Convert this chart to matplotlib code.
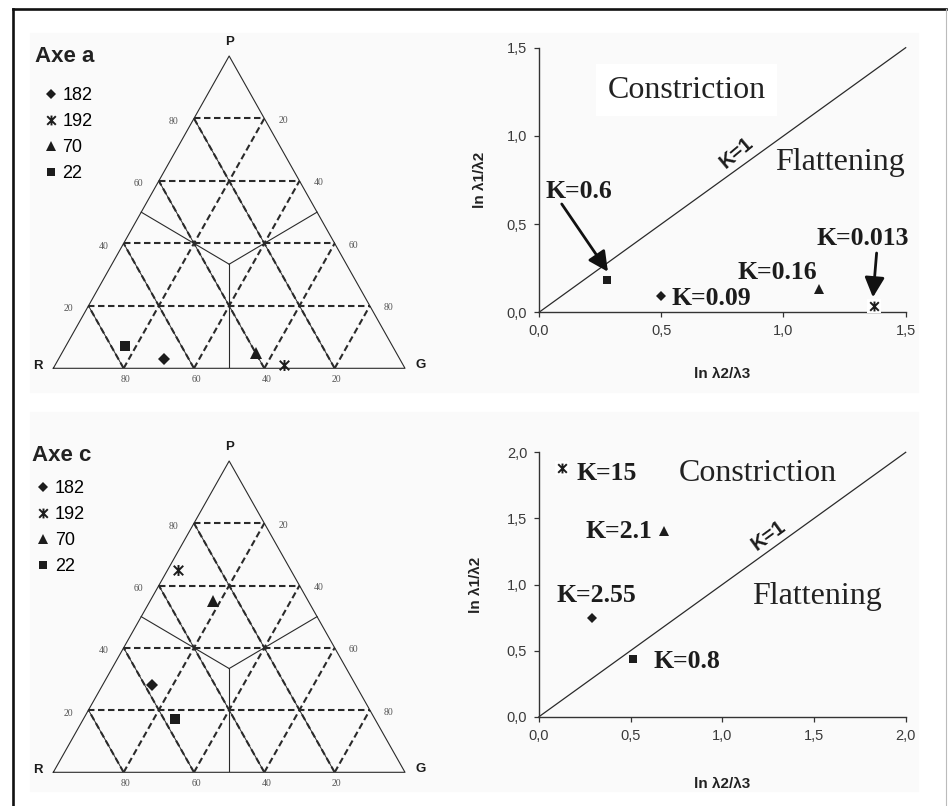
"""Ternary + Flinn diagrams for Axe a / Axe c (strain ellipsoid shape)."""

import matplotlib
matplotlib.use("Agg")
import matplotlib.pyplot as plt
import numpy as np
from matplotlib.lines import Line2D
from matplotlib.patches import Rectangle
from matplotlib.path import Path
from matplotlib.ticker import FuncFormatter

SANS = "Liberation Sans"
SERIF = "Liberation Serif"
INK = "#1c1c1c"
LINE = "#2a2a2a"
TICK = "#555555"
PANEL = "#fafafa"

# samples, same order everywhere
samples = ["182", "192", "70", "22"]

# ternary compositions, percent (P on the left edge, G on the right edge, R = rest)
axe_a_P = [3, 1, 5, 7]
axe_a_G = [30, 65, 55, 17]
axe_c_P = [28, 65, 55, 17]
axe_c_G = [14, 3, 18, 26]

# Flinn diagram: ln(l2/l3) vs ln(l1/l2)
axe_a_x = [0.50, 1.37, 1.145, 0.28]
axe_a_y = [0.095, 0.035, 0.13, 0.185]
axe_c_x = [0.29, 0.125, 0.68, 0.515]
axe_c_y = [0.745, 1.885, 1.405, 0.435]
axe_a_k = ["K=0.09", "K=0.013", "K=0.16", "K=0.6"]
axe_c_k = ["K=2.55", "K=15", "K=2.1", "K=0.8"]

grid_levels = [20, 40, 60, 80]

STAR = Path([(-1, -1), (1, 1), (-1, 1), (1, -1), (0, -1.15), (0, 1.15)],
            [Path.MOVETO, Path.LINETO, Path.MOVETO, Path.LINETO, Path.MOVETO, Path.LINETO])


def marker_style(name, scale=1.0):
    base = {
        "182": dict(marker="D", ms=5.8),
        "192": dict(marker=STAR, ms=7.5, mfc="none", mew=1.4),
        "70": dict(marker="^", ms=8.0),
        "22": dict(marker="s", ms=6.6),
    }[name]
    st = dict(base)
    st["ms"] = base["ms"] * scale
    st.setdefault("mew", 0)
    st.setdefault("mfc", INK)
    st["mec"] = INK
    return st


FIG_W, FIG_H = 948, 806


def fx(px):
    return px / FIG_W


def fy(py):
    return 1 - py / FIG_H


fig = plt.figure(figsize=(9.48, 8.06), dpi=100, facecolor="white")

# pasted-panel backgrounds + frame
for (x0, y0, x1, y1) in [(30, 33, 918, 392), (30, 412, 918, 791)]:
    fig.patches.append(Rectangle((fx(x0), fy(y1)), fx(x1) - fx(x0), fy(y0) - fy(y1),
                                 transform=fig.transFigure, color=PANEL, zorder=-10))
fig.lines.append(Line2D([fx(13), fx(13)], [0, fy(9)], transform=fig.transFigure,
                        color="#111111", lw=1.9))
fig.lines.append(Line2D([fx(13), fx(946)], [fy(9), fy(9)], transform=fig.transFigure,
                        color="#111111", lw=1.9))
fig.lines.append(Line2D([fx(946), fx(946)], [0, fy(9)], transform=fig.transFigure,
                        color="#bbbbbb", lw=0.8))

H = np.sqrt(3) / 2
DASH = (0, (3.1, 1.7))


def ternary(ax, P, G, title, title_xy, legend_xy):
    ax.set_xlim(0, 1)
    ax.set_ylim(0, H)
    ax.axis("off")
    ax.plot([0, 1, 0.5, 0], [0, 0, H, 0], color=LINE, lw=0.8, clip_on=False)

    for lv in grid_levels:
        v = lv / 100
        # constant P (horizontal)
        ax.plot([v / 2, 1 - v / 2], [v * H, v * H], color=LINE, lw=1.5, ls=DASH)
        # constant R (parallel to P-G edge): thin solid under the dashes
        xr = [1 - v, (1 - v) / 2]
        yr = [0, (1 - v) * H]
        ax.plot(xr, yr, color=LINE, lw=0.7)
        ax.plot(xr, yr, color=LINE, lw=1.5, ls=DASH)
        # constant G (parallel to R-P edge)
        ax.plot([v, v + (1 - v) / 2], [0, (1 - v) * H], color=LINE, lw=1.5, ls=DASH)

        kw = dict(fontsize=7, family=SERIF, color=TICK, textcoords="offset pixels",
                  ha="center", va="center")
        ax.annotate(f"{lv}", (v / 2, v * H), xytext=(-20, -3), **kw)
        ax.annotate(f"{100 - lv}", (1 - v / 2, v * H), xytext=(19, -2), **kw)
        ax.annotate(f"{100 - lv}", (v, 0), xytext=(2, -11), **kw)

    # field boundaries: centroid to edge midpoints
    cx, cy = 0.5, H / 3
    for mx, my in [(0.5, 0), (0.25, H / 2), (0.75, H / 2)]:
        ax.plot([cx, mx], [cy, my], color=LINE, lw=0.8)

    vkw = dict(fontsize=9.5, family=SANS, fontweight="bold", color=INK,
               textcoords="offset pixels", ha="center", va="center")
    ax.annotate("P", (0.5, H), xytext=(0, 14), **vkw)
    ax.annotate("R", (0, 0), xytext=(-15, 2), **vkw)
    ax.annotate("G", (1, 0), xytext=(16, 3), **vkw)

    P = np.array(P) / 100
    G = np.array(G) / 100
    xs = G + P / 2
    ys = P * H
    handles = []
    for i, s in enumerate(samples):
        ax.plot(xs[i], ys[i], ls="none", zorder=4, clip_on=False, **marker_style(s, 1.05))
        handles.append(Line2D([], [], ls="none", **marker_style(s, 0.95)))

    fig.text(fx(title_xy[0]), fy(title_xy[1]), title, fontsize=16, family=SANS,
             fontweight="bold", color="#222222", ha="left", va="center")
    fig.legend(handles, samples, loc="upper left",
               bbox_to_anchor=(fx(legend_xy[0]), fy(legend_xy[1])),
               frameon=False, borderpad=0, borderaxespad=0, handlelength=0.8,
               handletextpad=0.25, labelspacing=0.5,
               prop=dict(family=SANS, size=13))


def flinn(ax, xs, ys, ks, lim, label_offsets):
    ax.set_facecolor("none")
    ax.set_xlim(0, lim)
    ax.set_ylim(0, lim)
    ticks = np.arange(0, lim + 0.01, 0.5)
    ax.set_xticks(ticks)
    ax.set_yticks(ticks)
    fmt = FuncFormatter(lambda v, _: f"{v:.1f}".replace(".", ","))
    ax.xaxis.set_major_formatter(fmt)
    ax.yaxis.set_major_formatter(fmt)
    ax.tick_params(direction="out", length=3.5, width=0.9, color="#333333",
                   labelsize=10.5, labelcolor="#3a3a3a", pad=5)
    for lab in ax.get_xticklabels() + ax.get_yticklabels():
        lab.set_family(SANS)
    for sp in ("top", "right"):
        ax.spines[sp].set_visible(False)
    for sp in ("left", "bottom"):
        ax.spines[sp].set_color("#333333")
        ax.spines[sp].set_linewidth(1.0)

    ax.plot([0, lim], [0, lim], color=LINE, lw=0.9, clip_on=False)

    for i, s in enumerate(samples):
        if s == "192":
            # the star sits on a small white patch, breaking the axis line
            ax.plot(xs[i], ys[i], ls="none", marker="s", ms=10, mfc="white", mew=0,
                    zorder=3.5, clip_on=False)
        ax.plot(xs[i], ys[i], ls="none", zorder=4, clip_on=False, **marker_style(s, 0.95))

    for k, (tx, ty) in zip(ks, label_offsets):
        ax.text(tx, ty, k, family=SERIF, fontweight="bold", fontsize=18.5,
                color=INK, ha="left", va="center")

    ax.set_xlabel("ln \u03bb2/\u03bb3", family=SANS, fontweight="bold", fontsize=11,
                  color="#222222")
    ax.set_ylabel("ln \u03bb1/\u03bb2", family=SANS, fontweight="bold", fontsize=11,
                  color="#222222")


def arrow(ax, start, end):
    ax.annotate("", xy=end, xytext=start,
                arrowprops=dict(arrowstyle="-|>,head_length=0.6,head_width=0.3",
                                mutation_scale=20, lw=2.0, color="#111111",
                                shrinkA=0, shrinkB=0))


# --- ternary panels ---------------------------------------------------------
ax_ta = fig.add_axes([fx(53.3), fy(368.3), fx(405) - fx(53.3), fy(56) - fy(368.3)])
ternary(ax_ta, axe_a_P, axe_a_G, "Axe a", (35, 56), (43.5, 87))

ax_tc = fig.add_axes([fx(53.3), fy(772.3), fx(405) - fx(53.3), fy(461) - fy(772.3)])
ternary(ax_tc, axe_c_P, axe_c_G, "Axe c", (31.7, 455), (36, 480))

# --- Flinn panels -----------------------------------------------------------
ax_fa = fig.add_axes([fx(539), fy(312.3), fx(905.7) - fx(539), fy(47.7) - fy(312.3)])
flinn(ax_fa, axe_a_x, axe_a_y, axe_a_k, 1.5,
      [(0.543, 0.081), (1.136, 0.421), (0.814, 0.223), (0.025, 0.682)])
ax_fa.xaxis.set_label_coords(0.5, -0.206)
ax_fa.yaxis.set_label_coords(-0.142, 0.5)
ax_fa.text(0.604, 1.26, "Constriction", family=SERIF, fontsize=23, color="#222222",
           ha="center", va="center",
           bbox=dict(boxstyle="square,pad=0.35", fc="white", ec="none"))
ax_fa.text(1.231, 0.847, "Flattening", family=SERIF, fontsize=23, color="#222222",
           ha="center", va="center")
ax_fa.text(0.809, 0.905, "K=1", family=SANS, fontweight="bold", fontsize=14.5,
           color=INK, rotation=40, rotation_mode="anchor", ha="center", va="center")
arrow(ax_fa, (0.093, 0.614), (0.282, 0.23))
arrow(ax_fa, (1.381, 0.336), (1.366, 0.085))

ax_fc = fig.add_axes([fx(539), fy(716.7), fx(905.7) - fx(539), fy(452.3) - fy(716.7)])
flinn(ax_fc, axe_c_x, axe_c_y, axe_c_k, 2.0,
      [(0.097, 0.92), (0.206, 1.841), (0.251, 1.399), (0.623, 0.416)])
ax_fc.xaxis.set_label_coords(0.5, -0.227)
ax_fc.yaxis.set_label_coords(-0.152, 0.5)
ax_fc.text(1.196, 1.836, "Constriction", family=SERIF, fontsize=23, color="#222222",
           ha="center", va="center")
ax_fc.text(1.515, 0.913, "Flattening", family=SERIF, fontsize=23, color="#222222",
           ha="center", va="center")
ax_fc.text(1.251, 1.374, "K=1", family=SANS, fontweight="bold", fontsize=14.5,
           color=INK, rotation=36, rotation_mode="anchor", ha="center", va="center")

fig.savefig("out.png", dpi=100, facecolor="white")
